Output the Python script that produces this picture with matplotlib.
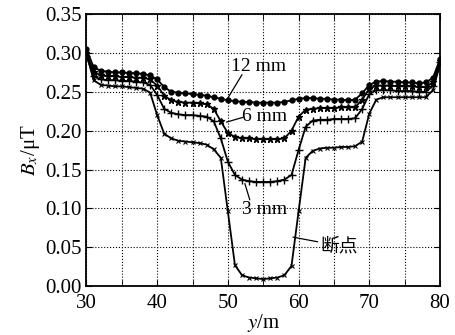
import numpy as np
import matplotlib
matplotlib.use('Agg')
import matplotlib.pyplot as plt
from matplotlib.ticker import MultipleLocator

plt.rcParams['font.family'] = ['Liberation Serif', 'Noto Sans CJK SC']
plt.rcParams['mathtext.fontset'] = 'stix'

# position along the line, m
y_pos = list(range(30, 81))

# Bx, uT
b_12mm = [0.305, 0.282, 0.277, 0.276, 0.275, 0.275, 0.274, 0.274, 0.273, 0.271,
          0.266, 0.256, 0.250, 0.249, 0.248, 0.247, 0.246, 0.245, 0.243, 0.241,
          0.239, 0.238, 0.237, 0.237, 0.236, 0.236, 0.236, 0.236, 0.237, 0.239,
          0.241, 0.242, 0.242, 0.241, 0.241, 0.240, 0.240, 0.239, 0.240, 0.248,
          0.259, 0.263, 0.264, 0.263, 0.263, 0.262, 0.262, 0.261, 0.262, 0.268,
          0.292]
b_6mm = [0.300, 0.276, 0.271, 0.270, 0.270, 0.269, 0.269, 0.268, 0.268, 0.266,
         0.258, 0.245, 0.239, 0.237, 0.236, 0.236, 0.235, 0.234, 0.228, 0.212,
         0.197, 0.192, 0.190, 0.190, 0.189, 0.189, 0.189, 0.189, 0.190, 0.200,
         0.218, 0.227, 0.228, 0.229, 0.229, 0.229, 0.230, 0.230, 0.230, 0.240,
         0.254, 0.258, 0.258, 0.258, 0.257, 0.257, 0.257, 0.256, 0.256, 0.262,
         0.289]
b_3mm = [0.296, 0.270, 0.266, 0.265, 0.265, 0.264, 0.264, 0.263, 0.262, 0.259,
         0.246, 0.228, 0.223, 0.221, 0.220, 0.220, 0.219, 0.218, 0.212, 0.190,
         0.160, 0.143, 0.137, 0.135, 0.134, 0.134, 0.134, 0.135, 0.137, 0.143,
         0.175, 0.205, 0.213, 0.214, 0.214, 0.215, 0.215, 0.215, 0.216, 0.228,
         0.247, 0.252, 0.252, 0.252, 0.251, 0.251, 0.251, 0.250, 0.250, 0.258,
         0.288]
b_break = [0.300, 0.265, 0.259, 0.258, 0.257, 0.257, 0.256, 0.255, 0.254, 0.249,
           0.220, 0.196, 0.190, 0.187, 0.186, 0.185, 0.184, 0.182, 0.176, 0.165,
           0.096, 0.027, 0.014, 0.011, 0.010, 0.009, 0.010, 0.011, 0.014, 0.026,
           0.096, 0.165, 0.174, 0.177, 0.178, 0.178, 0.179, 0.179, 0.180, 0.186,
           0.222, 0.240, 0.243, 0.243, 0.243, 0.243, 0.243, 0.243, 0.243, 0.252,
           0.285]

# curve labels: text, text position, leader start, leader end
labels = ['12 mm', '6 mm', '3 mm', '断点']
label_xy = [(54.3, 0.282), (55.2, 0.218), (55.2, 0.099), (65.7, 0.051)]
leader_from = [(52.0, 0.272), (52.1, 0.217), (53.1, 0.111), (62.7, 0.057)]
leader_to = [(50.0, 0.242), (49.8, 0.211), (52.4, 0.132), (59.2, 0.063)]

fig = plt.figure(figsize=(4.55, 3.35), dpi=100)
ax = fig.add_axes([0.19, 0.146, 0.777, 0.812])

ax.plot(y_pos, b_12mm, 'k-', marker='o', ms=3.5, lw=1.3)
ax.plot(y_pos, b_6mm, 'k-', marker='*', ms=5, lw=1.3)
ax.plot(y_pos, b_3mm, 'k-', marker='+', ms=6, mew=1, lw=1.3)
ax.plot(y_pos, b_break, 'k-', marker='x', ms=3, mew=0.8, lw=1.3)

ax.set_xlim(30, 80)
ax.set_ylim(0, 0.35)
ax.xaxis.set_major_locator(MultipleLocator(10))
ax.xaxis.set_minor_locator(MultipleLocator(5))
ax.yaxis.set_major_locator(MultipleLocator(0.05))
ax.yaxis.set_major_formatter(matplotlib.ticker.FormatStrFormatter('%.2f'))
ax.grid(True, which='both', ls=':', color='k', lw=0.8)
ax.tick_params(which='both', direction='in', top=True, right=True, labelsize=15, length=4)
ax.tick_params(axis='x', pad=6)
for s in ax.spines.values():
    s.set_linewidth(1.3)

ax.set_xlabel(r'$y$/m', fontsize=15, labelpad=-1)
ax.set_ylabel(r'$B_x$/μT', fontsize=15, labelpad=2)

for i in range(len(labels)):
    ax.annotate('', xy=leader_to[i], xytext=leader_from[i],
                arrowprops=dict(arrowstyle='-', color='k', lw=0.9, shrinkA=0, shrinkB=0))
    if labels[i] == '断点':
        ax.text(label_xy[i][0], label_xy[i][1], labels[i], fontsize=13.5,
                ha='center', va='center', family=['Noto Sans CJK SC'])
    else:
        ax.text(label_xy[i][0], label_xy[i][1], labels[i], fontsize=14,
                ha='center', va='center')

fig.savefig('out.png', dpi=100)
